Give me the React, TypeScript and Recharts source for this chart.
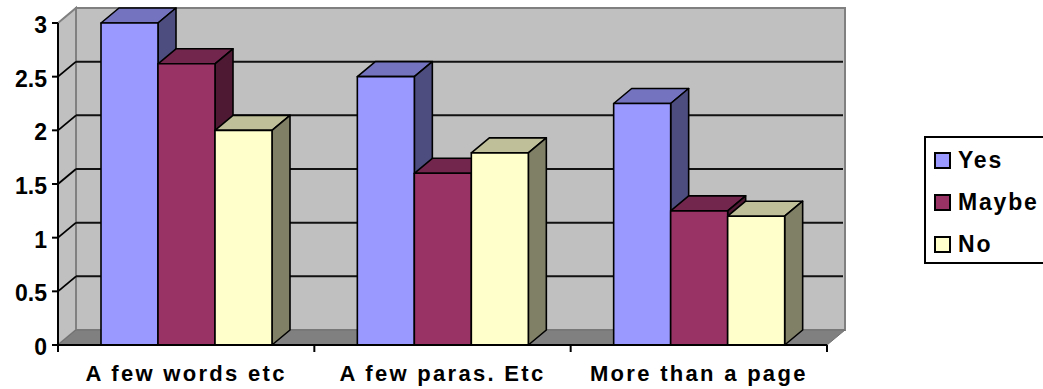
import { BarChart, Bar, XAxis, YAxis, CartesianGrid, Legend, usePlotArea } from "recharts";

const categories = ["A few words etc", "A few paras. Etc", "More than a page"];
const seriesNames = ["Yes", "Maybe", "No"];
const yesValues = [3, 2.5, 2.25];
const maybeValues = [2.62, 1.6, 1.25];
const noValues = [2, 1.79, 1.2];
const yTicks = [0, 0.5, 1, 1.5, 2, 2.5, 3];

const chartData = categories.map((name, i) => ({
  name,
  Yes: yesValues[i],
  Maybe: maybeValues[i],
  No: noValues[i],
}));

// how far the box is pushed back, in px
const DX = 18;
const DY = 15;
const FONT = "'Liberation Sans', Arial, sans-serif";

// back wall, side wall, floor and the category separators
function Walls() {
  const plot = usePlotArea();
  if (!plot) return null;
  const { x, y, width, height } = plot;
  const bottom = y + height;
  const right = x + width;
  const marks = categories.map((_, i) => x + (i * width) / categories.length).concat(right);

  return (
    <g>
      <rect x={x + DX} y={y - DY} width={width} height={height} fill="#c0c0c0" stroke="#808080" strokeWidth={2} />
      <polygon
        points={`${x},${y} ${x + DX},${y - DY} ${x + DX},${bottom - DY} ${x},${bottom}`}
        fill="#c0c0c0"
        stroke="#808080"
        strokeWidth={2}
      />
      <polygon
        points={`${x},${bottom} ${x + DX},${bottom - DY} ${right + DX},${bottom - DY} ${right},${bottom}`}
        fill="#808080"
        stroke="#707070"
        strokeWidth={1}
      />
      {marks.map((mx) => (
        <line key={mx} x1={mx} x2={mx} y1={bottom} y2={bottom + 7} stroke="#000" strokeWidth={2} />
      ))}
    </g>
  );
}

// gridline runs along the back wall and comes down the side wall to the axis;
// the first one also lays down the walls so every line lands on top of them
function WallGridLine(props: any) {
  const { x1, x2, y1, index } = props;
  const plot = usePlotArea();
  const isEdge = !plot || y1 <= plot.y + 1 || y1 >= plot.y + plot.height - 1;
  return (
    <g>
      {index === 0 && <Walls />}
      {!isEdge && (
        <>
          <line x1={x1} y1={y1} x2={x1 + DX} y2={y1 - DY} stroke="#000" strokeWidth={1.8} />
          <line x1={x1 + DX} y1={y1 - DY} x2={x2 + DX - 2} y2={y1 - DY} stroke="#111" strokeWidth={2} />
        </>
      )}
    </g>
  );
}

function Box3D(props: any) {
  const { x, y, width, height, fill, topFill, sideFill } = props;
  const r = x + width;
  const b = y + height;
  return (
    <g stroke="#000" strokeWidth={1.6} strokeLinejoin="round">
      <polygon points={`${x},${y} ${x + DX},${y - DY} ${r + DX},${y - DY} ${r},${y}`} fill={topFill} />
      <polygon points={`${r},${y} ${r + DX},${y - DY} ${r + DX},${b - DY} ${r},${b}`} fill={sideFill} />
      <rect x={x} y={y} width={width} height={height} fill={fill} />
    </g>
  );
}

function LegendBox({ payload }: any) {
  return (
    <div
      style={{
        width: 130,
        height: 124,
        border: "2px solid #000",
        background: "#fff",
        fontFamily: FONT,
        fontWeight: 700,
        fontSize: 23,
        letterSpacing: 1.8,
        color: "#000",
      }}
    >
      {(payload || []).map((entry: any) => (
        <div key={entry.value} style={{ display: "flex", alignItems: "center", height: 42, paddingLeft: 8, position: "relative", top: 1 }}>
          <span
            style={{
              display: "inline-block",
              width: 13,
              height: 13,
              background: entry.color,
              border: "2px solid #000",
              marginRight: 7,
            }}
          />
          {entry.value}
        </div>
      ))}
    </div>
  );
}

export default function App() {
  return (
    <div style={{ position: "absolute", left: 0, top: 0, width: 1043, height: 389, overflow: "hidden", background: "#fff" }}>
      <BarChart
        width={1043}
        height={389}
        data={chartData}
        margin={{ top: 23, right: 216, bottom: 0, left: 0 }}
        barSize={57}
        barGap={0}
      >
        <CartesianGrid vertical={false} horizontal={(p: any) => <WallGridLine {...p} key={p.key} />} />
        <XAxis
          dataKey="name"
          height={44}
          axisLine={{ stroke: "#000", strokeWidth: 2 }}
          tickLine={false}
          tickMargin={14}
          interval={0}
          tick={{ fill: "#000", fontFamily: FONT, fontWeight: 700, fontSize: 22, letterSpacing: 2.3 }}
        />
        <YAxis
          width={58}
          domain={[0, 3]}
          ticks={yTicks}
          axisLine={{ stroke: "#000", strokeWidth: 2 }}
          tickLine={{ stroke: "#000", strokeWidth: 2 }}
          tickSize={6}
          tickMargin={5}
          tick={{ fill: "#000", fontFamily: FONT, fontWeight: 700, fontSize: 23, dy: 2 }}
        />
        <Legend
          layout="vertical"
          align="center"
          verticalAlign="middle"
          content={<LegendBox />}
          itemSorter={(item: any) => seriesNames.indexOf(item.value)}
          wrapperStyle={{ position: "absolute", left: 924, top: 136, width: 130, margin: 0 }}
        />
        <Bar dataKey="Yes" fill="#9999ff" isAnimationActive={false}
          shape={(p: any) => <Box3D {...p} topFill="#7373bf" sideFill="#4d4d80" />} />
        <Bar dataKey="Maybe" fill="#993366" isAnimationActive={false}
          shape={(p: any) => <Box3D {...p} topFill="#73264d" sideFill="#4d1933" />} />
        <Bar dataKey="No" fill="#ffffcc" isAnimationActive={false}
          shape={(p: any) => <Box3D {...p} topFill="#bfbf99" sideFill="#808066" />} />
      </BarChart>
    </div>
  );
}
